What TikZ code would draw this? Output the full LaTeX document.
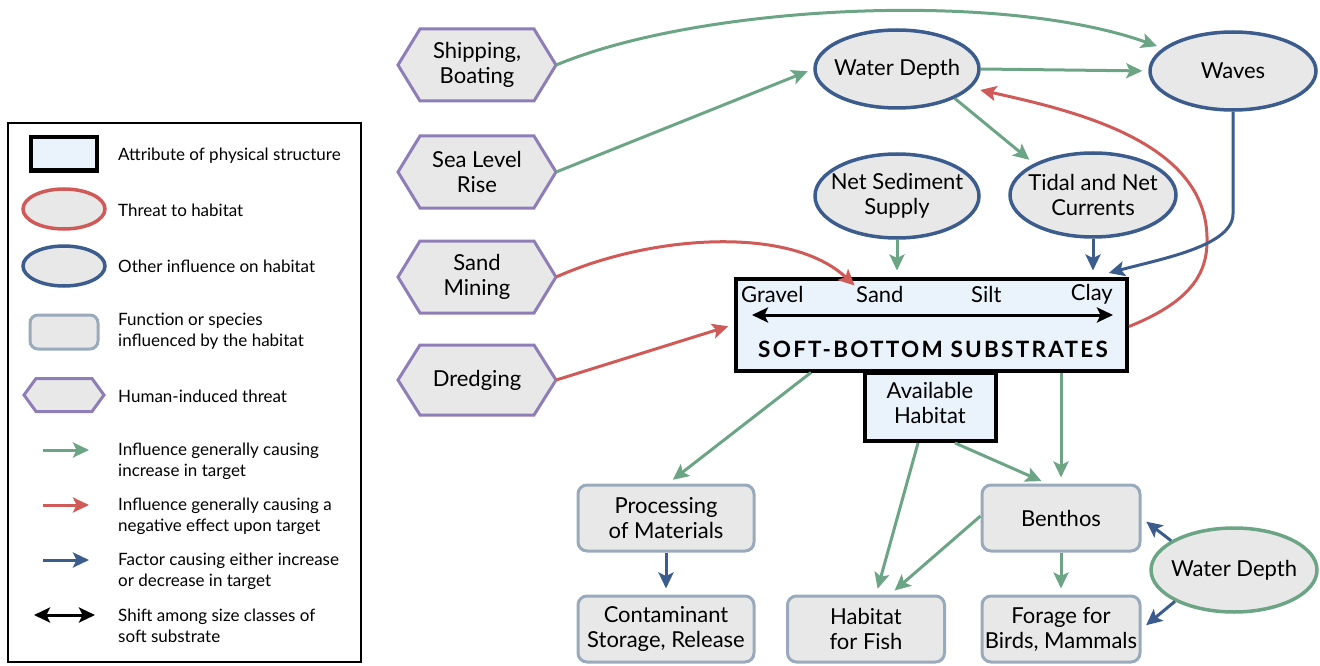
\documentclass[tikz,border=0pt]{standalone}
\usepackage{fontspec}
\setmainfont{Lato}
\usetikzlibrary{arrows.meta,shapes.geometric,calc}
\definecolor{grn}{HTML}{6BA585}
\definecolor{rd}{HTML}{D05A58}
\definecolor{blu}{HTML}{3B5C8C}
\definecolor{prp}{HTML}{8F7DB7}
\definecolor{gfill}{HTML}{E8E8E8}
\definecolor{bfill}{HTML}{EAF3FB}
\definecolor{sbord}{HTML}{9AAABD}
\newcommand\hexnode[7]{%
  \draw[hexs] ({#2-#4/2},#3) -- ({#2-#4/2+#6},{#3-#5/2}) -- ({#2+#4/2-#6},{#3-#5/2}) -- ({#2+#4/2},#3) -- ({#2+#4/2-#6},{#3+#5/2}) -- ({#2-#4/2+#6},{#3+#5/2}) -- cycle;
  \node[txt, minimum width=#4, minimum height=#5] (#1) at (#2,#3) {#7};}
\begin{document}
\begin{tikzpicture}[x=1pt,y=-1pt,
  hexs/.style={draw=prp, line width=3pt, fill=gfill, line join=miter},
  txt/.style={inner sep=0pt, align=center, font=\fontsize{22}{25}\selectfont},
  lt/.style={inner sep=0pt, anchor=west, align=left, font=\fontsize{17}{21}\selectfont},
  ell/.style={ellipse, draw=blu, line width=3.5pt, fill=gfill, inner sep=0pt},
  etxt/.style={label={[txt]center:#1}},
  fbox/.style={rectangle, rounded corners=9pt, draw=sbord, line width=3pt, fill=gfill, minimum width=176pt, minimum height=66pt, inner sep=0pt, align=center, font=\fontsize{22}{25}\selectfont},
  sbox/.style={rectangle, draw=black, line width=4pt, fill=bfill, inner sep=0pt},
  arr/.style={line width=3pt, shorten >=6pt, -{Stealth[length=16pt,width=15pt,inset=3.5pt]}},
  ga/.style={arr, draw=grn},
  ra/.style={arr, draw=rd},
  ba/.style={arr, draw=blu},
  dbl/.style={line width=3pt, draw=black, {Stealth[length=16pt,width=15pt,inset=3.5pt]}-{Stealth[length=16pt,width=15pt,inset=3.5pt]}}
]
\useasboundingbox (0,0) rectangle (1320,666);

% ---------- legend ----------
\node[draw=black, line width=1.2pt, minimum width=353pt, minimum height=539pt, inner sep=0pt] (legend) at (184.5,392.5) {};
\node[sbox, minimum width=66pt, minimum height=33pt] (lg1) at (64,154) {};
\node[lt] (lt1) at (118,156) {Attribute of physical structure};
\node[ellipse, draw=rd, line width=3.5pt, fill=gfill, minimum width=82pt, minimum height=40pt, inner sep=0pt] (lg2) at (64,209) {};
\node[lt] (lt2) at (118,210) {Threat to habitat};
\node[ellipse, draw=blu, line width=3.5pt, fill=gfill, minimum width=82pt, minimum height=40pt, inner sep=0pt] (lg3) at (64,266) {};
\node[lt] (lt3) at (118,266) {Other influence on habitat};
\node[fbox, minimum width=68pt, minimum height=34pt, rounded corners=8pt] (lg4) at (64,332) {};
\node[lt] (lt4) at (118,331) {Function or species\\influenced by the habitat};
\hexnode{lg5}{64}{395}{80}{33}{12}{}
\node[lt] (lt5) at (118,396) {Human-induced threat};
\coordinate (g1a) at (43,450); \coordinate (g1b) at (95,450);
\draw[ga] (g1a) -- (g1b);
\node[lt] (lt6) at (118,461) {Influence generally causing\\increase in target};
\coordinate (g2a) at (43,505); \coordinate (g2b) at (95,505);
\draw[ra] (g2a) -- (g2b);
\node[lt] (lt7) at (118,516) {Influence generally causing a\\negative effect upon target};
\coordinate (g3a) at (43,560); \coordinate (g3b) at (95,560);
\draw[ba] (g3a) -- (g3b);
\node[lt] (lt8) at (118,571) {Factor causing either increase\\or decrease in target};
\coordinate (g4a) at (34,615); \coordinate (g4b) at (95,615);
\draw[dbl] (g4a) -- (g4b);
\node[lt] (lt9) at (118,626) {Shift among size classes of\\soft substrate};

% ---------- hexagons ----------
\hexnode{ship}{477}{65}{158}{72}{22}{Shipping,\\Boating}
\hexnode{sea}{477}{172}{158}{72}{22}{Sea Level\\Rise}
\hexnode{sand}{477}{277}{158}{72}{22}{Sand\\Mining}
\hexnode{dredge}{477}{380}{158}{70}{22}{Dredging}

% ---------- ellipses ----------
\node[ell, minimum width=164pt, minimum height=78pt, etxt={Water Depth}] (wd) at (897,69) {};
\node[ell, minimum width=166pt, minimum height=78pt, etxt={Waves}] (waves) at (1233,71) {};
\node[ell, minimum width=164pt, minimum height=84pt, etxt={Net Sediment\\Supply}] (nss) at (897,196) {};
\node[ell, minimum width=166pt, minimum height=84pt, etxt={Tidal and Net\\Currents}] (tidal) at (1093,195) {};
\node[ell, draw=grn, minimum width=166pt, minimum height=84pt, etxt={Water Depth}] (wd2) at (1234,570) {};

% ---------- main box ----------
\node[sbox, minimum width=391pt, minimum height=92pt] (main) at (931.5,324.5) {};
\node[sbox, minimum width=131pt, minimum height=68pt] (avail) at (930,407) {};
\node[txt] (availt) at (930,403) {Available\\Habitat};
\node[txt, anchor=west] (gravel) at (741,294) {Gravel};
\node[txt, anchor=west] (sandt) at (856,294) {Sand};
\node[txt, anchor=west] (silt) at (971,294) {Silt};
\node[txt, anchor=east] (clay) at (1113,294) {Clay};
\coordinate (dA) at (752,315); \coordinate (dB) at (1113,315);
\draw[dbl] (dA) -- (dB);
\node[txt, font=\fontsize{22.5}{25}\selectfont\bfseries\addfontfeature{LetterSpace=10}] (sbs) at (933,349) {SOFT-BOTTOM SUBSTRATES};

% ---------- bottom boxes ----------
\node[fbox] (proc) at (666,518) {Processing\\of Materials};
\node[fbox] (cont) at (666,629) {Contaminant\\Storage, Release};
\node[fbox, minimum width=157pt] (fish) at (866,629) {Habitat\\for Fish};
\node[fbox, minimum width=158pt] (benth) at (1061,518) {Benthos};
\node[fbox, minimum width=158pt] (forage) at (1061,629) {Forage for\\Birds, Mammals};

% ---------- connectors ----------
\draw[ra] ([yshift=-2pt]main.east) .. controls (1195,300) and (1208,270) .. (1207,237) .. controls (1205,140) and (1070,110) .. ([xshift=4pt]wd.-15);
\draw[ga] (ship.east) .. controls (700,5) and (1000,-10) .. (waves.162);
\draw[ga] (sea.east) -- (wd.west);
\draw[ra] (sand.east) .. controls (650,235) and (790,225) .. ([xshift=3pt,yshift=-4pt]sandt.north west);
\draw[ra] (dredge.east) -- (main.west);
\draw[ga] (wd.east) -- (waves.west);
\draw[ga] (wd.-27) -- (tidal.152);
\draw[ga] (nss.south) -- (nss |- main.north);
\draw[ba] (tidal.south) -- (tidal |- main.north);
\draw[ba] (waves.south) -- ++(0,102) .. controls ++(0,32) and ++(60,-16) .. ([xshift=10pt,yshift=2pt]tidal |- main.north);
\draw[ga] ($(main.south west)+(77,0)$) -- ([xshift=2pt]proc.north);
\draw[ga] ($(avail.south)+(-12,0)$) -- ([xshift=10pt]fish.north);
\draw[ga] ($(avail.south)+(25,0)$) -- ([xshift=-14pt]benth.north);
\draw[ga] (benth |- main.south) -- (benth.north);
\draw[ba] (proc.south) -- (cont.north);
\draw[ga] ([yshift=2pt]benth.west) -- ([xshift=24pt]fish.north);
\draw[ga] (benth.south) -- (forage.north);
\draw[ba] (wd2.155) -- (benth.east);
\draw[ba] (wd2.-152) -- (forage.east);
\end{tikzpicture}
\end{document}
